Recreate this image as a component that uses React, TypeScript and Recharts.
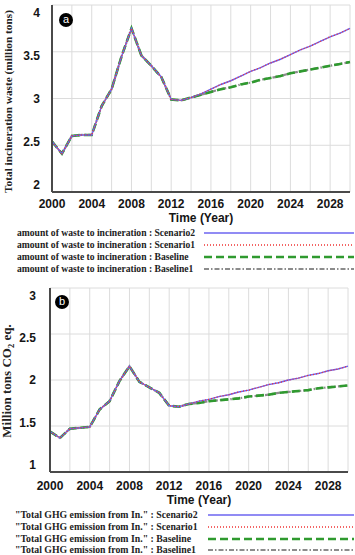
import React from 'react';
import { LineChart, Line, XAxis, YAxis, CartesianGrid } from 'recharts';

// Simulation years
const years = [
  2000, 2001, 2002, 2003, 2004, 2005, 2006, 2007, 2008, 2009, 2010,
  2011, 2012, 2013, 2014, 2015, 2016, 2017, 2018, 2019, 2020,
  2021, 2022, 2023, 2024, 2025, 2026, 2027, 2028, 2029, 2030,
];
const gridYears = [2000, 2002, 2004, 2006, 2008, 2010, 2012, 2014, 2016, 2018, 2020, 2022, 2024, 2026, 2028];

const wasteTicks = [2, 2.5, 3, 3.5, 4];
const ghgTicks = [1, 1.5, 2, 2.5, 3];

// (a) amount of waste to incineration, million tons
const wasteScenario2 = [
  2.54, 2.41, 2.6, 2.61, 2.61, 2.92, 3.1, 3.45, 3.75, 3.46, 3.35,
  3.23, 2.99, 2.98, 3.01, 3.05, 3.1, 3.15, 3.19, 3.24, 3.29,
  3.33, 3.38, 3.42, 3.47, 3.52, 3.56, 3.61, 3.66, 3.7, 3.75,
];
const wasteScenario1 = [
  2.54, 2.41, 2.6, 2.61, 2.61, 2.92, 3.1, 3.45, 3.75, 3.46, 3.35,
  3.23, 2.99, 2.98, 3.01, 3.05, 3.1, 3.15, 3.19, 3.24, 3.29,
  3.33, 3.38, 3.42, 3.47, 3.52, 3.56, 3.61, 3.66, 3.7, 3.75,
];
const wasteBaseline = [
  2.54, 2.41, 2.6, 2.61, 2.61, 2.92, 3.1, 3.45, 3.75, 3.46, 3.35,
  3.23, 2.99, 2.98, 3.01, 3.04, 3.07, 3.1, 3.12, 3.15, 3.17,
  3.2, 3.22, 3.24, 3.27, 3.29, 3.31, 3.33, 3.35, 3.37, 3.39,
];
const wasteBaseline1 = [
  2.54, 2.41, 2.6, 2.61, 2.61, 2.92, 3.1, 3.45, 3.75, 3.46, 3.35,
  3.23, 2.99, 2.98, 3.01, 3.04, 3.07, 3.1, 3.12, 3.15, 3.17,
  3.2, 3.22, 3.24, 3.27, 3.29, 3.31, 3.33, 3.35, 3.37, 3.39,
];

// (b) total GHG emission from incineration, million tons CO2 eq.
const ghgScenario2 = [
  1.44, 1.37, 1.47, 1.48, 1.49, 1.68, 1.77, 1.99, 2.15, 1.98, 1.92,
  1.86, 1.72, 1.71, 1.74, 1.77, 1.79, 1.82, 1.84, 1.87, 1.89,
  1.92, 1.95, 1.97, 2.0, 2.02, 2.05, 2.07, 2.1, 2.12, 2.15,
];
const ghgScenario1 = [
  1.44, 1.37, 1.47, 1.48, 1.49, 1.68, 1.77, 1.99, 2.15, 1.98, 1.92,
  1.86, 1.72, 1.71, 1.74, 1.77, 1.79, 1.82, 1.84, 1.87, 1.89,
  1.92, 1.95, 1.97, 2.0, 2.02, 2.05, 2.07, 2.1, 2.12, 2.15,
];
const ghgBaseline = [
  1.44, 1.37, 1.47, 1.48, 1.49, 1.68, 1.77, 1.99, 2.15, 1.98, 1.92,
  1.86, 1.72, 1.71, 1.74, 1.75, 1.77, 1.78, 1.79, 1.8, 1.82,
  1.83, 1.84, 1.86, 1.87, 1.88, 1.89, 1.91, 1.92, 1.93, 1.94,
];
const ghgBaseline1 = [
  1.44, 1.37, 1.47, 1.48, 1.49, 1.68, 1.77, 1.99, 2.15, 1.98, 1.92,
  1.86, 1.72, 1.71, 1.74, 1.75, 1.77, 1.78, 1.79, 1.8, 1.82,
  1.83, 1.84, 1.86, 1.87, 1.88, 1.89, 1.91, 1.92, 1.93, 1.94,
];

const wasteLegendPrefix = 'amount of waste to incineration : ';
const ghgLegendPrefix = '"Total GHG emission from In." : ';

type SeriesStyle = { key: string; color: string; width: number; dash?: string };

// legend order
const SERIES: SeriesStyle[] = [
  { key: 'Scenario2', color: '#6c64f0', width: 1.4 },
  { key: 'Scenario1', color: '#f03434', width: 1.3, dash: '1 2' },
  { key: 'Baseline', color: '#2f9a2f', width: 2.6, dash: '8 4' },
  { key: 'Baseline1', color: '#8c8c8c', width: 2.2, dash: '5 2 1.5 2' },
];
// painting order (last on top)
const DRAW_ORDER = ['Baseline1', 'Baseline', 'Scenario2', 'Scenario1'];

const buildRows = (s2: number[], s1: number[], b: number[], b1: number[]) =>
  years.map((year, i) => ({ year, Scenario2: s2[i], Scenario1: s1[i], Baseline: b[i], Baseline1: b1[i] }));

const wasteRows = buildRows(wasteScenario2, wasteScenario1, wasteBaseline, wasteBaseline1);
const ghgRows = buildRows(ghgScenario2, ghgScenario1, ghgBaseline, ghgBaseline1);

const FRAME = '#4a4a4a';

const sansBold: React.CSSProperties = {
  fontFamily: '"Liberation Sans", Arial, sans-serif',
  fontWeight: 700,
  fontSize: 12,
  fill: '#151515',
};
const serifBold = '"Liberation Serif", "Times New Roman", serif';

// Value labels are pulled slightly toward the middle of the plot, so the
// end labels sit inside the frame.
const makeYTick = (mid: number) => (props: any) => {
  const { x, y, payload } = props;
  const ty = y + (mid - y) * 0.08;
  return (
    <text x={x} y={ty} dy="0.36em" textAnchor="end" style={sansBold}>
      {payload.value}
    </text>
  );
};

const xTickFormat = (v: number) => (v % 4 === 0 ? String(v) : '');

const renderLines = () =>
  DRAW_ORDER.map((k) => {
    const s = SERIES.find((d) => d.key === k)!;
    return (
      <Line
        key={k}
        type="linear"
        dataKey={k}
        stroke={s.color}
        strokeWidth={s.width}
        strokeDasharray={s.dash}
        dot={false}
        activeDot={false}
        isAnimationActive={false}
      />
    );
  });

// top and right edges of the plot frame
const frameAxes = (yDomain: [number, number]) => [
  <XAxis
    key="fx"
    xAxisId="frame"
    orientation="top"
    type="number"
    domain={[2000, 2030]}
    height={0}
    tick={false}
    tickLine={false}
    axisLine={{ stroke: FRAME, strokeWidth: 2 }}
  />,
  <YAxis
    key="fy"
    yAxisId="frame"
    orientation="right"
    type="number"
    domain={yDomain}
    width={0}
    tick={false}
    tickLine={false}
    axisLine={{ stroke: FRAME, strokeWidth: 2 }}
  />,
];

const Badge = ({ left, top, letter }: { left: number; top: number; letter: string }) => (
  <div
    style={{
      position: 'absolute',
      left: left - 7,
      top: top - 7,
      width: 14,
      height: 14,
      borderRadius: 7,
      background: '#000',
      color: '#fff',
      fontFamily: '"Liberation Sans", Arial, sans-serif',
      fontSize: 11,
      lineHeight: '13px',
      textAlign: 'center',
    }}
  >
    {letter}
  </div>
);

const LegendRows = ({
  prefix,
  rows,
  textLeft,
  lineLeft,
  fontSize,
}: {
  prefix: string;
  rows: number[];
  textLeft: number;
  lineLeft: number;
  fontSize: number;
}) => (
  <>
    {SERIES.map((s, i) => (
      <React.Fragment key={s.key}>
        <div
          style={{
            position: 'absolute',
            left: textLeft,
            top: rows[i] - 6,
            height: 12,
            lineHeight: '12px',
            fontFamily: serifBold,
            fontWeight: 700,
            fontSize,
            color: '#222',
            whiteSpace: 'nowrap',
          }}
        >
          {prefix + s.key}
        </div>
        <svg
          style={{ position: 'absolute', left: lineLeft, top: rows[i] - 3 }}
          width={354 - lineLeft}
          height={6}
        >
          <line
            x1={0}
            x2={354 - lineLeft}
            y1={3}
            y2={3}
            stroke={s.color}
            strokeWidth={s.width}
            strokeDasharray={s.dash}
          />
        </svg>
      </React.Fragment>
    ))}
  </>
);

export default function App() {
  return (
    <div
      style={{
        position: 'absolute',
        left: 0,
        top: 0,
        width: 355,
        height: 555,
        background: '#fff',
        overflow: 'hidden',
      }}
    >
      {/* (a) incineration waste */}
      <div style={{ position: 'absolute', left: 0, top: 0 }}>
        <LineChart width={355} height={230} data={wasteRows} margin={{ top: 5, right: 5, bottom: 0, left: 0 }}>
          <CartesianGrid stroke="#dcdcdc" strokeWidth={1} />
          <XAxis
            type="number"
            dataKey="year"
            domain={[2000, 2030]}
            ticks={gridYears}
            tickFormatter={xTickFormat}
            interval={0}
            height={38}
            axisLine={{ stroke: FRAME, strokeWidth: 2 }}
            tickLine={false}
            tickSize={0}
            tickMargin={7}
            tick={sansBold}
            label={{ value: 'Time (Year)', position: 'insideBottom', offset: 8, style: { ...sansBold, textAnchor: 'middle' } }}
          />
          <YAxis
            type="number"
            domain={[2, 4]}
            ticks={wasteTicks}
            interval={0}
            width={52}
            axisLine={{ stroke: FRAME, strokeWidth: 2 }}
            tickLine={false}
            tickSize={0}
            tickMargin={12}
            tick={makeYTick(98.5)}
            label={{
              content: () => (
                <text
                  transform="translate(11.5, 101.5) rotate(-90)"
                  textAnchor="middle"
                  style={{ fontFamily: serifBold, fontWeight: 700, fontSize: 11.3, fill: '#222' }}
                >
                  Total incineration waste (million tons)
                </text>
              ),
            }}
          />
          {frameAxes([2, 4])}
          {renderLines()}
        </LineChart>
      </div>
      <Badge left={66} top={20} letter="a" />
      <LegendRows prefix={wasteLegendPrefix} rows={[233, 245, 257, 269]} textLeft={17} lineLeft={204} fontSize={9.6} />

      {/* (b) GHG emission */}
      <div style={{ position: 'absolute', left: 0, top: 280 }}>
        <LineChart width={355} height={228} data={ghgRows} margin={{ top: 8, right: 7, bottom: 0, left: 0 }}>
          <CartesianGrid stroke="#dcdcdc" strokeWidth={1} />
          <XAxis
            type="number"
            dataKey="year"
            domain={[2000, 2030]}
            ticks={gridYears}
            tickFormatter={xTickFormat}
            interval={0}
            height={36}
            axisLine={{ stroke: FRAME, strokeWidth: 2 }}
            tickLine={false}
            tickSize={0}
            tickMargin={9}
            tick={sansBold}
            label={{ value: 'Time (Year)', position: 'insideBottom', offset: 4, style: { ...sansBold, textAnchor: 'middle' } }}
          />
          <YAxis
            type="number"
            domain={[1, 3]}
            ticks={ghgTicks}
            interval={0}
            width={50}
            axisLine={{ stroke: FRAME, strokeWidth: 2 }}
            tickLine={false}
            tickSize={0}
            tickMargin={14}
            tick={makeYTick(100)}
            label={{
              content: () => (
                <text
                  transform="translate(11, 101) rotate(-90)"
                  textAnchor="middle"
                  style={{ fontFamily: serifBold, fontWeight: 700, fontSize: 13, fill: '#222' }}
                >
                  <tspan>Million tons CO</tspan>
                  <tspan fontSize={8.5} dy={3}>2</tspan>
                  <tspan dy={-3}> eq.</tspan>
                </text>
              ),
            }}
          />
          {frameAxes([1, 3])}
          {renderLines()}
        </LineChart>
      </div>
      <Badge left={62} top={302} letter="b" />
      <LegendRows prefix={ghgLegendPrefix} rows={[515, 527, 539, 550]} textLeft={15} lineLeft={208} fontSize={9.8} />
    </div>
  );
}
